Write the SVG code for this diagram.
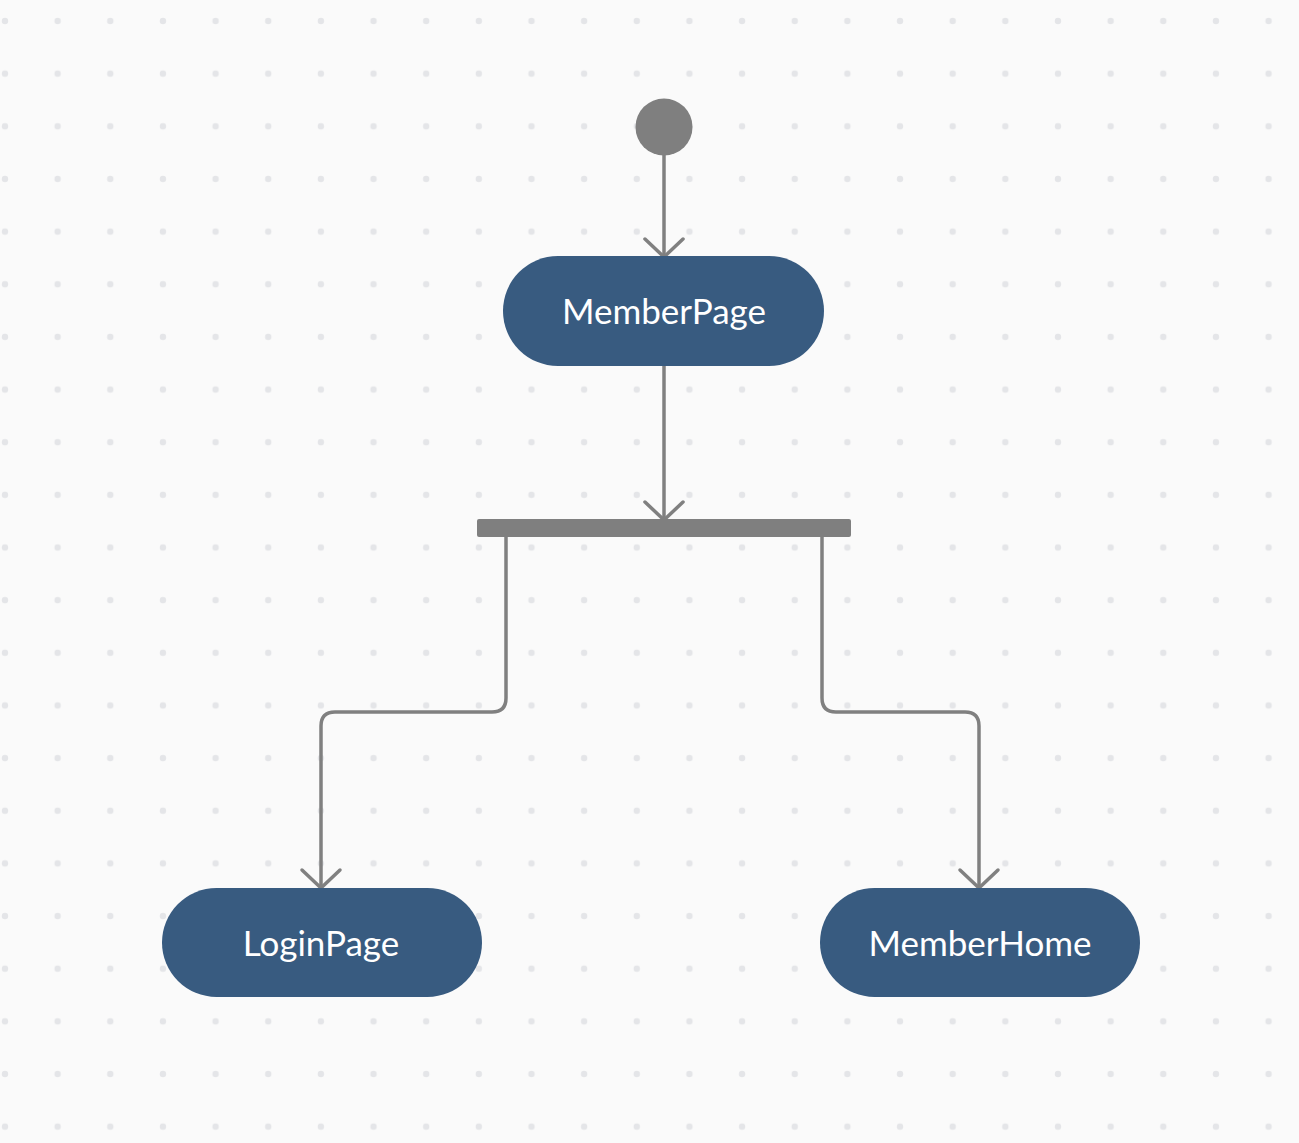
<svg xmlns="http://www.w3.org/2000/svg" width="1299" height="1143" viewBox="0 0 1299 1143">
  <defs>
    <pattern id="dots" x="5" y="21" width="52.65" height="52.65" patternUnits="userSpaceOnUse">
      <circle cx="0" cy="0" r="3.2" fill="#e4e5e8"/>
      <circle cx="52.65" cy="0" r="3.2" fill="#e4e5e8"/>
      <circle cx="0" cy="52.65" r="3.2" fill="#e4e5e8"/>
      <circle cx="52.65" cy="52.65" r="3.2" fill="#e4e5e8"/>
    </pattern>
  </defs>
  <style>
    .node rect { fill: #385b80; }
    .node text { font-family: Lato, "Liberation Sans", sans-serif; font-size: 35px; fill: #ffffff; text-anchor: middle; }
    .conn path { fill: none; stroke: #808080; stroke-width: 3.5; stroke-linecap: round; stroke-linejoin: round; }
  </style>
  <rect width="1299" height="1143" fill="#fafafa"/>
  <rect width="1299" height="1143" fill="url(#dots)"/>

  <g id="connectors" class="conn">
    <path d="M664 155 V256"/>
    <path d="M645 239 L664 257 L683 239"/>
    <path d="M664 366 V519"/>
    <path d="M645 502 L664 520 L683 502"/>
    <path d="M506 537 V698 Q506 712 492 712 H335 Q321 712 321 726 V887"/>
    <path d="M302 870 L321 888 L340 870"/>
    <path d="M822 537 V698 Q822 712 836 712 H965 Q979 712 979 726 V887"/>
    <path d="M960 870 L979 888 L998 870"/>
  </g>

  <g id="start">
    <circle cx="664" cy="127" r="28.5" fill="#7f7f7f"/>
  </g>

  <g id="fork">
    <rect x="477" y="519" width="374" height="18" rx="2" fill="#7f7f7f"/>
  </g>

  <g id="memberPage" class="node">
    <rect x="503" y="256" width="321" height="110" rx="55"/>
    <text x="664" y="324">MemberPage</text>
  </g>

  <g id="loginPage" class="node">
    <rect x="162" y="888" width="320" height="109" rx="54.5"/>
    <text x="321" y="956">LoginPage</text>
  </g>

  <g id="memberHome" class="node">
    <rect x="820" y="888" width="320" height="109" rx="54.5"/>
    <text x="980" y="956">MemberHome</text>
  </g>
</svg>
